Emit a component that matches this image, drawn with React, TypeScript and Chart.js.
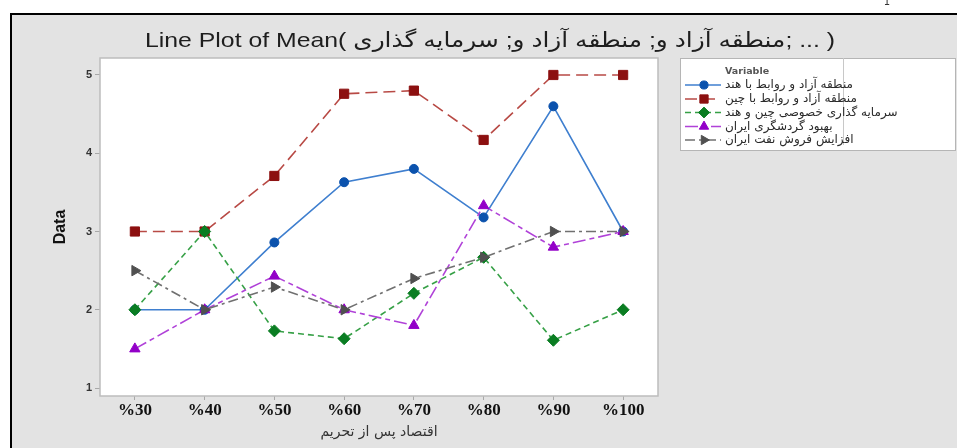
import React, { useEffect, useRef } from 'react';
import { Chart, registerables } from 'chart.js';

Chart.register(...registerables);

const categories = ['%30', '%40', '%50', '%60', '%70', '%80', '%90', '%100'];
const seriesNames = [
  'منطقه آزاد و روابط با هند',
  'منطقه آزاد و روابط با چین',
  'سرمایه گذاری خصوصی چین و هند',
  'بهبود گردشگری ایران',
  'افزایش فروش نفت ایران',
];
const indiaZone = [2, 2, 2.86, 3.63, 3.8, 3.18, 4.6, 3];
const chinaZone = [3, 3, 3.71, 4.76, 4.8, 4.17, 5, 5];
const privateInvest = [2, 3, 1.73, 1.63, 2.21, 2.67, 1.61, 2];
const tourism = [1.5, 2, 2.43, 2, 1.8, 3.33, 2.8, 3];
const oilSales = [2.5, 2, 2.29, 2, 2.4, 2.67, 3, 3];
const yTickValues = [1, 2, 3, 4, 5];
const chartTitle = 'Line Plot of Mean( منطقه آزاد و; منطقه آزاد و; سرمایه گذاری; ... )';
const xTitle = 'اقتصاد پس از تحریم';
const yTitle = 'Data';
const legendTitle = 'Variable';

function drawMarker(ctx: CanvasRenderingContext2D, style: string, r: number, x: number, y: number, rotationDeg: number) {
  const rad = ((rotationDeg || 0) * Math.PI) / 180;
  ctx.beginPath();
  if (style === 'circle') {
    ctx.arc(x, y, r, 0, Math.PI * 2);
  } else if (style === 'rect') {
    const s = Math.SQRT1_2 * r;
    ctx.rect(x - s, y - s, 2 * s, 2 * s);
  } else if (style === 'rectRot') {
    ctx.moveTo(x, y - r);
    ctx.lineTo(x + r, y);
    ctx.lineTo(x, y + r);
    ctx.lineTo(x - r, y);
  } else if (style === 'triangle') {
    let a = rad;
    ctx.moveTo(x + Math.sin(a) * r, y - Math.cos(a) * r);
    a += (2 * Math.PI) / 3;
    ctx.lineTo(x + Math.sin(a) * r, y - Math.cos(a) * r);
    a += (2 * Math.PI) / 3;
    ctx.lineTo(x + Math.sin(a) * r, y - Math.cos(a) * r);
  }
  ctx.closePath();
  ctx.fill();
  ctx.stroke();
}

const decorPlugin = {
  id: 'decor',
  beforeDraw(chart: any) {
    const { ctx, width, height, chartArea } = chart;
    ctx.save();
    ctx.fillStyle = '#ffffff';
    ctx.fillRect(0, 0, width, height);
    ctx.fillStyle = '#e3e3e3';
    ctx.fillRect(11, 14, width - 11, height - 14);
    ctx.fillStyle = '#000000';
    ctx.fillRect(10, 13, width - 10, 2);
    ctx.fillRect(10, 13, 2, height - 13);
    ctx.fillStyle = '#333';
    ctx.font = '10px "DejaVu Sans"';
    ctx.textAlign = 'center';
    ctx.textBaseline = 'alphabetic';
    ctx.fillText('1', 887, 5);
    ctx.fillStyle = '#ffffff';
    ctx.fillRect(chartArea.left, chartArea.top, chartArea.right - chartArea.left, chartArea.bottom - chartArea.top);
    // title, stretched to the reference width
    ctx.fillStyle = '#1e1e1e';
    ctx.font = '21px "Liberation Sans", "DejaVu Sans"';
    (ctx as any).direction = 'ltr';
    ctx.textAlign = 'center';
    ctx.textBaseline = 'middle';
    const w = ctx.measureText(chartTitle).width;
    const sx = w > 0 ? 690 / w : 1;
    ctx.translate(490, 41);
    ctx.scale(sx, 1);
    ctx.fillText(chartTitle, 0, 0);
    ctx.restore();
  },
  afterDraw(chart: any) {
    const { ctx, chartArea } = chart;
    ctx.save();
    ctx.strokeStyle = '#bdbdbd';
    ctx.lineWidth = 1.5;
    ctx.strokeRect(chartArea.left, chartArea.top, chartArea.right - chartArea.left, chartArea.bottom - chartArea.top);
    const lx = 680, ly = 58, lw = 275, lh = 92;
    ctx.fillStyle = '#ffffff';
    ctx.fillRect(lx, ly, lw, lh);
    ctx.strokeStyle = '#b5b5b5';
    ctx.lineWidth = 1;
    ctx.strokeRect(lx + 0.5, ly + 0.5, lw, lh);
    ctx.strokeStyle = '#c8c8c8';
    ctx.beginPath();
    ctx.moveTo(843.5, ly);
    ctx.lineTo(843.5, ly + lh - 5);
    ctx.stroke();
    ctx.fillStyle = '#555';
    ctx.font = 'bold 9.5px "DejaVu Sans"';
    ctx.textAlign = 'left';
    ctx.textBaseline = 'middle';
    ctx.fillText(legendTitle, 725, 72);
    const rows = [85, 99, 112.5, 126.5, 140];
    chart.data.datasets.forEach((ds: any, i: number) => {
      const y = rows[i];
      ctx.save();
      ctx.strokeStyle = ds.borderColor;
      ctx.lineWidth = 1.5;
      ctx.setLineDash(ds.borderDash || []);
      ctx.beginPath();
      ctx.moveTo(685, y);
      ctx.lineTo(721, y);
      ctx.stroke();
      ctx.restore();
      const meta = chart.getDatasetMeta(i);
      const pt = meta.data[0];
      if (pt) {
        const o = pt.options;
        ctx.save();
        ctx.fillStyle = o.backgroundColor;
        ctx.strokeStyle = o.borderColor;
        ctx.lineWidth = o.borderWidth;
        drawMarker(ctx, o.pointStyle, o.radius * 0.9, 704, y, o.rotation);
        ctx.restore();
      }
      ctx.save();
      ctx.fillStyle = '#2a2a2a';
      ctx.font = '12px "DejaVu Sans"';
      (ctx as any).direction = 'rtl';
      ctx.textAlign = 'left';
      ctx.textBaseline = 'middle';
      ctx.fillText(ds.label, 725, y);
      ctx.restore();
    });
    ctx.restore();
  },
};

export default function App() {
  const ref = useRef<HTMLCanvasElement>(null);
  useEffect(() => {
    if (!ref.current) return;
    const mk = (label: string, data: number[], line: string, marker: string, style: string, radius: number, dash: number[], order: number, rotation = 0) => ({
      label,
      data,
      borderColor: line,
      borderWidth: 1.6,
      borderDash: dash,
      pointStyle: style,
      pointRadius: radius,
      pointRotation: rotation,
      pointBackgroundColor: marker,
      pointBorderColor: marker,
      pointBorderWidth: 1,
      tension: 0,
      fill: false,
      order,
    });
    const chart = new Chart(ref.current, {
      type: 'line',
      data: {
        labels: categories,
        datasets: [
          mk(seriesNames[0], indiaZone, '#3f7fcf', '#0b52ad', 'circle', 4.5, [], 5),
          mk(seriesNames[1], chinaZone, '#b84a45', '#8c1010', 'rect', 6.5, [12, 6], 4),
          mk(seriesNames[2], privateInvest, '#36a046', '#0a7d22', 'rectRot', 6, [6, 4], 3),
          mk(seriesNames[3], tourism, '#b042d8', '#9300c8', 'triangle', 6, [13, 4, 5, 4], 2),
          mk(seriesNames[4], oilSales, '#707070', '#505050', 'triangle', 6, [10, 4, 3, 4], 1, 90),
        ],
      },
      options: {
        responsive: false,
        animation: false,
        devicePixelRatio: 1,
        layout: { padding: { top: 58, left: 0, right: 299, bottom: 0 } },
        plugins: { legend: { display: false }, tooltip: { enabled: false }, title: { display: false } },
        scales: {
          x: {
            type: 'category',
            offset: true,
            afterFit: (s: any) => { s.height = 52; },
            grid: { drawOnChartArea: false, drawTicks: true, tickLength: 4, color: '#a8a8a8', offset: false },
            border: { display: false },
            ticks: { padding: 0, color: '#111', font: { family: '"Liberation Serif", serif', size: 17, weight: 'bold' } },
            title: { display: true, text: xTitle, color: '#333', padding: { top: 7.6, bottom: 7.6 }, font: { family: '"DejaVu Sans"', size: 14 } },
          },
          y: {
            min: 0.898,
            max: 5.217,
            afterFit: (s: any) => { s.width = 100; },
            afterBuildTicks: (s: any) => { s.ticks = yTickValues.map((v) => ({ value: v })); },
            grid: { drawOnChartArea: false, drawTicks: true, tickLength: 5, color: '#a8a8a8' },
            border: { display: false },
            ticks: { padding: 3, color: '#333', font: { family: '"Liberation Sans", Arial', size: 11, weight: 'bold' } },
            title: { display: true, text: yTitle, color: '#111', padding: { top: 51, bottom: 51 }, font: { family: '"Liberation Sans", Arial', size: 16, weight: 'bold' } },
          },
        },
      },
      plugins: [decorPlugin],
    } as any);
    return () => chart.destroy();
  }, []);
  return (
    <div style={{ position: 'absolute', left: 0, top: 0, width: 957, height: 448 }}>
      <canvas ref={ref} width={957} height={448} style={{ display: 'block', width: 957, height: 448 }} />
    </div>
  );
}
